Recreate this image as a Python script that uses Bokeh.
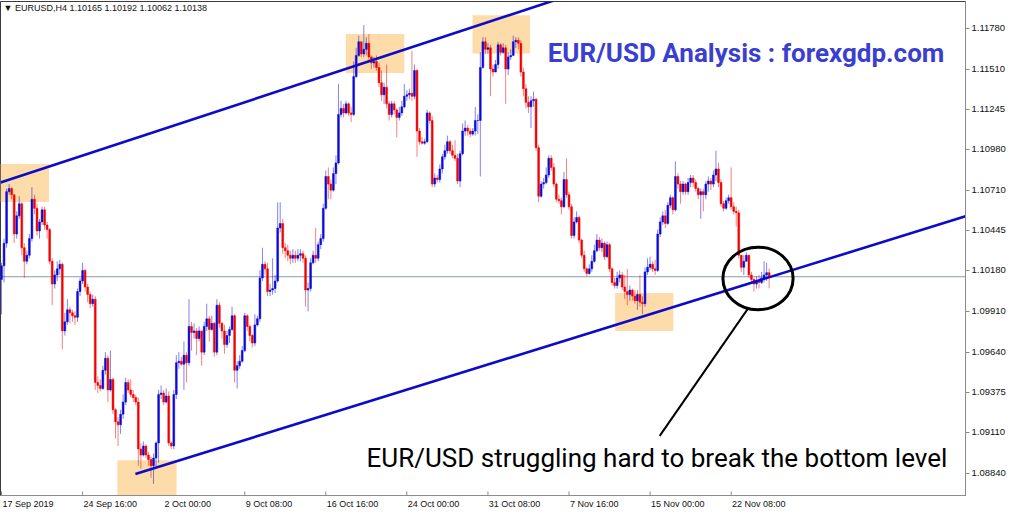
from bokeh.plotting import figure
from bokeh.models import (Range1d, FixedTicker, PrintfTickFormatter, Span, Label,
                          CustomJSTickFormatter)
from bokeh.embed import file_html
from bokeh.resources import INLINE

header_text = "\u25bc EURUSD,H4  1.10165 1.10192 1.10062 1.10138"
title_text = "EUR/USD Analysis : forexgdp.com"
note_text = "EUR/USD struggling hard to break the bottom level"

first_open = 1.1012
close = [
    1.1021, 1.1036, 1.1070, 1.1072, 1.1068, 1.1042, 1.1054, 1.1062, 1.1033, 1.1024,
    1.1028, 1.1039, 1.1065, 1.1059, 1.1044, 1.1050, 1.1058, 1.1048, 1.1045, 1.1024,
    1.1009, 1.1015, 1.1019, 1.1022, 1.0978, 1.0984, 1.0992, 1.0990, 1.0988, 1.0987,
    1.1004, 1.1011, 1.1018, 1.1007, 1.1002, 1.0996, 1.0999, 1.0944, 1.0942, 1.0940,
    1.0952, 1.0960, 1.0939, 1.0946, 1.0926, 1.0918, 1.0916, 1.0923, 1.0931, 1.0944,
    1.0939, 1.0936, 1.0934, 1.0931, 1.0900, 1.0896, 1.0902, 1.0896, 1.0893, 1.0889,
    1.0894, 1.0904, 1.0936, 1.0937, 1.0931, 1.0935, 1.0904, 1.0902, 1.0936, 1.0957,
    1.0958, 1.0956, 1.0962, 1.0957, 1.0981, 1.0977, 1.0978, 1.0973, 1.0978, 1.0964,
    1.0981, 1.0986, 1.0979, 1.0983, 1.0964, 1.0995, 1.0983, 1.0978, 1.0969, 1.0975,
    1.0979, 1.0988, 1.0952, 1.0955, 1.0958, 1.0965, 1.0988, 1.0981, 1.0975, 1.0970,
    1.0982, 1.0986, 1.1013, 1.1022, 1.1019, 1.1004, 1.1005, 1.1006, 1.1011, 1.1046,
    1.1049, 1.1033, 1.1031, 1.1028, 1.1026, 1.1028, 1.1026, 1.1028, 1.1029, 1.1026,
    1.1005, 1.1006, 1.1023, 1.1028, 1.1026, 1.1035, 1.1039, 1.1059, 1.1080, 1.1075,
    1.1071, 1.1082, 1.1089, 1.1121, 1.1125, 1.1122, 1.1128, 1.1122, 1.1121, 1.1146,
    1.1160, 1.1169, 1.1161, 1.1164, 1.1168, 1.1159, 1.1155, 1.1156, 1.1152, 1.1142,
    1.1134, 1.1139, 1.1128, 1.1121, 1.1128, 1.1124, 1.1119, 1.1122, 1.1126, 1.1133,
    1.1134, 1.1135, 1.1133, 1.1150, 1.1110, 1.1103, 1.1102, 1.1103, 1.1122, 1.1117,
    1.1075, 1.1079, 1.1078, 1.1085, 1.1093, 1.1097, 1.1103, 1.1097, 1.1094, 1.1092,
    1.1077, 1.1095, 1.1110, 1.1112, 1.1110, 1.1108, 1.1110, 1.1117, 1.1117, 1.1152,
    1.1169, 1.1164, 1.1165, 1.1151, 1.1149, 1.1154, 1.1167, 1.1162, 1.1165, 1.1151,
    1.1159, 1.1160, 1.1169, 1.1170, 1.1168, 1.1149, 1.1138, 1.1129, 1.1126, 1.1130,
    1.1131, 1.1099, 1.1067, 1.1075, 1.1076, 1.1081, 1.1092, 1.1086, 1.1075, 1.1065,
    1.1064, 1.1060, 1.1078, 1.1068, 1.1060, 1.1041, 1.1050, 1.1053, 1.1038, 1.1028,
    1.1019, 1.1016, 1.1019, 1.1024, 1.1031, 1.1038, 1.1033, 1.1036, 1.1027, 1.1035,
    1.1019, 1.1010, 1.1008, 1.1013, 1.1015, 1.1007, 1.1004, 1.1002, 1.1005, 1.1001,
    1.0998, 1.1002, 1.0997, 1.0996, 1.1017, 1.1020, 1.1022, 1.1019, 1.1018, 1.1042,
    1.1050, 1.1054, 1.1049, 1.1061, 1.1066, 1.1058, 1.1080, 1.1075, 1.1070, 1.1075,
    1.1070, 1.1076, 1.1079, 1.1076, 1.1072, 1.1068, 1.1070, 1.1068, 1.1075, 1.1077,
    1.1075, 1.1081, 1.1085, 1.1076, 1.1062, 1.1059, 1.1064, 1.1066, 1.1060, 1.1057,
    1.1056, 1.1028, 1.1020, 1.1024, 1.1028, 1.1015, 1.1012, 1.1009, 1.1011, 1.1010,
    1.1013, 1.1015, 1.10165, 1.10138,
]
high = [
    1.1023, 1.1039, 1.1072, 1.1075, 1.1073, 1.1068, 1.1057, 1.1067, 1.1063, 1.1036,
    1.1031, 1.1042, 1.1073, 1.1068, 1.1062, 1.1052, 1.1060, 1.1060, 1.1050, 1.1046,
    1.1026, 1.1018, 1.1024, 1.1025, 1.1023, 1.0990, 1.0999, 1.0994, 1.0992, 1.0991,
    1.1006, 1.1013, 1.1023, 1.1019, 1.1009, 1.1004, 1.1002, 1.1001, 1.0948, 1.0946,
    1.0955, 1.0964, 1.0962, 1.0965, 1.0947, 1.0927, 1.0921, 1.0926, 1.0936, 1.0947,
    1.0946, 1.0946, 1.0939, 1.0936, 1.0934, 1.0904, 1.0905, 1.0903, 1.0898, 1.0895,
    1.0897, 1.0905, 1.0939, 1.0942, 1.0939, 1.0940, 1.0938, 1.0905, 1.0939, 1.0962,
    1.0964, 1.0961, 1.0971, 1.0964, 1.0999, 1.0984, 1.0983, 1.0980, 1.0981, 1.0978,
    1.0984, 1.0996, 1.0988, 1.0988, 1.0984, 1.0999, 1.0997, 1.0984, 1.0982, 1.0978,
    1.0981, 1.0994, 1.0989, 1.0958, 1.0962, 1.0968, 1.0990, 1.0989, 1.0982, 1.0976,
    1.0989, 1.0988, 1.1018, 1.1033, 1.1024, 1.1023, 1.1009, 1.1026, 1.1015, 1.1063,
    1.1063, 1.1052, 1.1036, 1.1035, 1.1031, 1.1032, 1.1031, 1.1032, 1.1032, 1.1031,
    1.1028, 1.1010, 1.1026, 1.1031, 1.1046, 1.1037, 1.1042, 1.1062, 1.1084, 1.1086,
    1.1078, 1.1086, 1.1094, 1.1141, 1.1130, 1.1128, 1.1130, 1.1129, 1.1126, 1.1156,
    1.1165, 1.1173, 1.1169, 1.1180, 1.1172, 1.1174, 1.1160, 1.1159, 1.1160, 1.1155,
    1.1150, 1.1142, 1.1154, 1.1130, 1.1130, 1.1130, 1.1125, 1.1126, 1.1130, 1.1141,
    1.1137, 1.1138, 1.1163, 1.1154, 1.1151, 1.1112, 1.1106, 1.1105, 1.1124, 1.1123,
    1.1120, 1.1082, 1.1081, 1.1088, 1.1095, 1.1101, 1.1107, 1.1104, 1.1101, 1.1104,
    1.1095, 1.1097, 1.1115, 1.1117, 1.1114, 1.1112, 1.1112, 1.1126, 1.1121, 1.1162,
    1.1172, 1.1172, 1.1168, 1.1167, 1.1154, 1.1157, 1.1169, 1.1168, 1.1168, 1.1167,
    1.1162, 1.1164, 1.1173, 1.1172, 1.1172, 1.1170, 1.1152, 1.1141, 1.1133, 1.1133,
    1.1136, 1.1132, 1.1101, 1.1077, 1.1079, 1.1086, 1.1094, 1.1094, 1.1089, 1.1076,
    1.1068, 1.1066, 1.1083, 1.1092, 1.1070, 1.1062, 1.1053, 1.1057, 1.1054, 1.1039,
    1.1031, 1.1020, 1.1022, 1.1028, 1.1035, 1.1042, 1.1040, 1.1039, 1.1037, 1.1037,
    1.1036, 1.1020, 1.1013, 1.1017, 1.1018, 1.1017, 1.1015, 1.1019, 1.1008, 1.1006,
    1.1005, 1.1005, 1.1015, 1.1001, 1.1020, 1.1026, 1.1027, 1.1024, 1.1025, 1.1045,
    1.1053, 1.1057, 1.1058, 1.1063, 1.1068, 1.1067, 1.1090, 1.1082, 1.1077, 1.1077,
    1.1076, 1.1079, 1.1081, 1.1081, 1.1078, 1.1073, 1.1072, 1.1072, 1.1077, 1.1080,
    1.1079, 1.1084, 1.1097, 1.1089, 1.1078, 1.1064, 1.1066, 1.1068, 1.1086, 1.1063,
    1.1060, 1.1058, 1.1028, 1.1028, 1.1030, 1.1028, 1.1017, 1.1013, 1.1014, 1.1015,
    1.1017, 1.1024, 1.1023, 1.10192,
]
low = [
    1.0989, 1.1010, 1.1033, 1.1068, 1.1065, 1.1036, 1.1039, 1.1052, 1.1028, 1.1013,
    1.1022, 1.1026, 1.1037, 1.1055, 1.1041, 1.1039, 1.1048, 1.1045, 1.1039, 1.1022,
    1.0995, 1.1006, 1.1011, 1.1015, 1.0966, 1.0975, 1.0982, 1.0983, 1.0984, 1.0982,
    1.0984, 1.1001, 1.1009, 1.1004, 1.0997, 1.0993, 1.0994, 1.0939, 1.0937, 1.0938,
    1.0939, 1.0949, 1.0931, 1.0938, 1.0923, 1.0907, 1.0902, 1.0910, 1.0920, 1.0929,
    1.0937, 1.0934, 1.0931, 1.0929, 1.0889, 1.0887, 1.0895, 1.0894, 1.0889, 1.0881,
    1.0877, 1.0887, 1.0891, 1.0933, 1.0929, 1.0930, 1.0902, 1.0900, 1.0900, 1.0933,
    1.0953, 1.0955, 1.0939, 1.0944, 1.0955, 1.0965, 1.0973, 1.0962, 1.0971, 1.0955,
    1.0962, 1.0978, 1.0971, 1.0978, 1.0961, 1.0962, 1.0980, 1.0973, 1.0963, 1.0967,
    1.0970, 1.0978, 1.0944, 1.0940, 1.0953, 1.0957, 1.0964, 1.0978, 1.0971, 1.0967,
    1.0968, 1.0981, 1.0984, 1.1011, 1.1015, 1.1001, 1.1001, 1.1002, 1.1003, 1.1010,
    1.1043, 1.1029, 1.1026, 1.1024, 1.1022, 1.1023, 1.1023, 1.1024, 1.1024, 1.1023,
    1.0994, 1.0991, 1.1004, 1.1022, 1.1023, 1.1024, 1.1032, 1.1037, 1.1058, 1.1065,
    1.1065, 1.1070, 1.1075, 1.1088, 1.1119, 1.1119, 1.1121, 1.1120, 1.1116, 1.1120,
    1.1145, 1.1159, 1.1159, 1.1159, 1.1160, 1.1156, 1.1151, 1.1152, 1.1150, 1.1139,
    1.1130, 1.1128, 1.1125, 1.1117, 1.1119, 1.1121, 1.1106, 1.1117, 1.1120, 1.1125,
    1.1130, 1.1131, 1.1130, 1.1131, 1.1093, 1.1101, 1.1101, 1.1101, 1.1102, 1.1115,
    1.1073, 1.1073, 1.1076, 1.1076, 1.1082, 1.1091, 1.1095, 1.1095, 1.1092, 1.1090,
    1.1075, 1.1073, 1.1094, 1.1107, 1.1107, 1.1106, 1.1107, 1.1107, 1.1108, 1.1080,
    1.1151, 1.1161, 1.1161, 1.1133, 1.1146, 1.1149, 1.1151, 1.1160, 1.1161, 1.1128,
    1.1147, 1.1157, 1.1160, 1.1165, 1.1164, 1.1146, 1.1133, 1.1125, 1.1122, 1.1112,
    1.1126, 1.1097, 1.1063, 1.1066, 1.1072, 1.1075, 1.1079, 1.1084, 1.1073, 1.1063,
    1.1062, 1.1055, 1.1059, 1.1066, 1.1058, 1.1039, 1.1039, 1.1049, 1.1036, 1.1026,
    1.1017, 1.1014, 1.1015, 1.1017, 1.1023, 1.1030, 1.1031, 1.1030, 1.1025, 1.1026,
    1.1017, 1.1008, 1.1006, 1.1006, 1.1010, 1.1005, 1.0999, 1.0995, 1.0998, 1.0998,
    1.0996, 1.0992, 1.0994, 1.0989, 1.0994, 1.1015, 1.1018, 1.1017, 1.1015, 1.1017,
    1.1040, 1.1048, 1.1046, 1.1048, 1.1059, 1.1055, 1.1057, 1.1072, 1.1062, 1.1068,
    1.1068, 1.1068, 1.1073, 1.1073, 1.1070, 1.1065, 1.1052, 1.1057, 1.1065, 1.1070,
    1.1071, 1.1073, 1.1077, 1.1073, 1.1060, 1.1057, 1.1058, 1.1062, 1.1058, 1.1055,
    1.1047, 1.1026, 1.1017, 1.1015, 1.1024, 1.1013, 1.1009, 1.1004, 1.1006, 1.1006,
    1.1009, 1.1010, 1.1011, 1.10062,
]

x_tick_bars = [0, 32, 64, 96, 128, 160, 192, 224, 256, 288]
x_tick_labels = ["17 Sep 2019", "24 Sep 16:00", "2 Oct 00:00", "9 Oct 08:00",
                 "16 Oct 16:00", "24 Oct 00:00", "31 Oct 08:00", "7 Nov 16:00",
                 "15 Nov 00:00", "22 Nov 08:00"]
price_ticks = [1.11780, 1.11510, 1.11245, 1.10980, 1.10710, 1.10445, 1.10180,
               1.09910, 1.09640, 1.09375, 1.09110, 1.08840]
last_price = 1.10138

# highlighted zones (bar index / price)
zone_left = [-0.4, 45.7, 135.9, 185.9, 242.2]
zone_right = [18.75, 69.1, 159.0, 208.6, 265.2]
zone_top = [1.10883, 1.08926, 1.11742, 1.11865, 1.10031]
zone_bottom = [1.10631, 1.08600, 1.11484, 1.11613, 1.09779]

# trend lines
upper_x = [-0.4, 380.5]
upper_y = [1.10760, 1.12857]
lower_x = [52.85, 380.5]
lower_y = [1.08835, 1.10537]

# circle + pointer
circle_x = [298.6]
circle_y = [1.10127]
circle_w = 27.7
circle_h = 0.00413
pointer_x = [294.9, 259.8]
pointer_y = [1.09934, 1.09087]

title_pos = (215.6, 1.11613)
note_pos = (144.1, 1.08939)
header_pos = (0.8, 1.1191)

# ---- layout constants ----
X_START, X_END = -0.4, 380.5
Y_START, Y_END = 1.08693, 1.11956
FIG_W, FIG_H = 1008, 511
PX_PER_BAR = 2.54
label_px_width = [51.0, 53.5, 46.5, 46.5, 51.5, 51.5, 51.5, 48.5, 53.5, 53.5]

bars = list(range(len(close)))
opens = [first_open] + close[:-1]
body_top = [max(o, c) for o, c in zip(opens, close)]
body_bot = [min(o, c) for o, c in zip(opens, close)]
colors = ["#0a0ad8" if c >= o else "#f20000" for o, c in zip(opens, close)]

p = figure(width=FIG_W, height=FIG_H, output_backend="svg", toolbar_location=None,
           x_range=Range1d(X_START, X_END), y_range=Range1d(Y_START, Y_END),
           y_axis_location="right", min_border_left=0, min_border_top=1,
           min_border_right=0, min_border_bottom=0)
p.xgrid.visible = False
p.ygrid.visible = False
p.outline_line_color = "#3c3c3c"
p.outline_line_width = 1
p.background_fill_color = "white"
p.border_fill_color = "white"

yax = p.yaxis[0]
yax.axis_label = None
yax.ticker = FixedTicker(ticks=price_ticks)
yax.formatter = PrintfTickFormatter(format="%.5f")
yax.major_tick_in = 0
yax.major_tick_out = 4
yax.minor_tick_in = 0
yax.minor_tick_out = 0
yax.minor_tick_line_color = None
yax.axis_line_color = "#8c8c8c"
yax.major_tick_line_color = "#8c8c8c"
yax.major_label_text_font = "Liberation Sans"
yax.major_label_text_font_size = "9.5px"
yax.major_label_text_color = "#111111"
yax.major_label_standoff = 2

# x axis: labels left-aligned at their tick, so label anchors are shifted by half width
label_pos = [round(b + (w / 2 + 1) / PX_PER_BAR, 2) for b, w in zip(x_tick_bars, label_px_width)]
xax = p.xaxis[0]
xax.axis_label = None
xax.ticker = FixedTicker(ticks=label_pos)
xax.formatter = CustomJSTickFormatter(args=dict(labels=x_tick_labels), code="return labels[index];")
xax.major_tick_in = 0
xax.major_tick_out = 0
xax.minor_tick_in = 0
xax.minor_tick_out = 0
xax.major_tick_line_color = None
xax.minor_tick_line_color = None
xax.axis_line_color = "#8c8c8c"
xax.major_label_text_font = "Liberation Sans"
xax.major_label_text_font_size = "9px"
xax.major_label_text_line_height = 1.0
xax.major_label_text_color = "#111111"
xax.major_label_standoff = 3

# inward tick marks at the real tick bars
tick_len = 4 * (Y_END - Y_START) / 490
p.segment(x0=x_tick_bars, x1=x_tick_bars, y0=[Y_START] * len(x_tick_bars),
          y1=[Y_START + tick_len] * len(x_tick_bars), line_color="#8c8c8c", line_width=1)

# zones
p.quad(left=zone_left, right=zone_right, top=zone_top, bottom=zone_bottom,
       fill_color="#fddcaa", line_color=None)

# current price line
p.add_layout(Span(location=last_price, dimension="width", line_color="#8d9aab",
                  line_width=1, level="underlay"))

# candles
p.segment(x0=bars, y0=high, x1=bars, y1=low, line_color=colors, line_width=1, line_alpha=0.5)
p.vbar(x=bars, width=0.72, top=body_top, bottom=body_bot, fill_color=colors,
       line_color=colors, line_width=0.5)

# trend lines
p.line(upper_x, upper_y, line_color="#0c0cc8", line_width=2.6)
p.line(lower_x, lower_y, line_color="#0c0cc8", line_width=2.6)

# circle + pointer
p.ellipse(x=circle_x, y=circle_y, width=circle_w, height=circle_h,
          fill_color=None, line_color="black", line_width=3)
p.line(pointer_x, pointer_y, line_color="black", line_width=2)

# texts
p.add_layout(Label(x=title_pos[0], y=title_pos[1], text=title_text, text_font="Roboto",
                   text_font_style="bold", text_font_size="26px", text_color="#3b3fcf",
                   text_baseline="alphabetic"))
p.add_layout(Label(x=note_pos[0], y=note_pos[1], text=note_text, text_font="Roboto",
                   text_font_size="26px", text_color="#000000", text_baseline="alphabetic"))
p.add_layout(Label(x=header_pos[0], y=header_pos[1], text=header_text,
                   text_font="Liberation Sans", text_font_size="9px", text_color="#111111",
                   text_baseline="middle"))

open("out.html", "w").write(file_html(p, INLINE))
